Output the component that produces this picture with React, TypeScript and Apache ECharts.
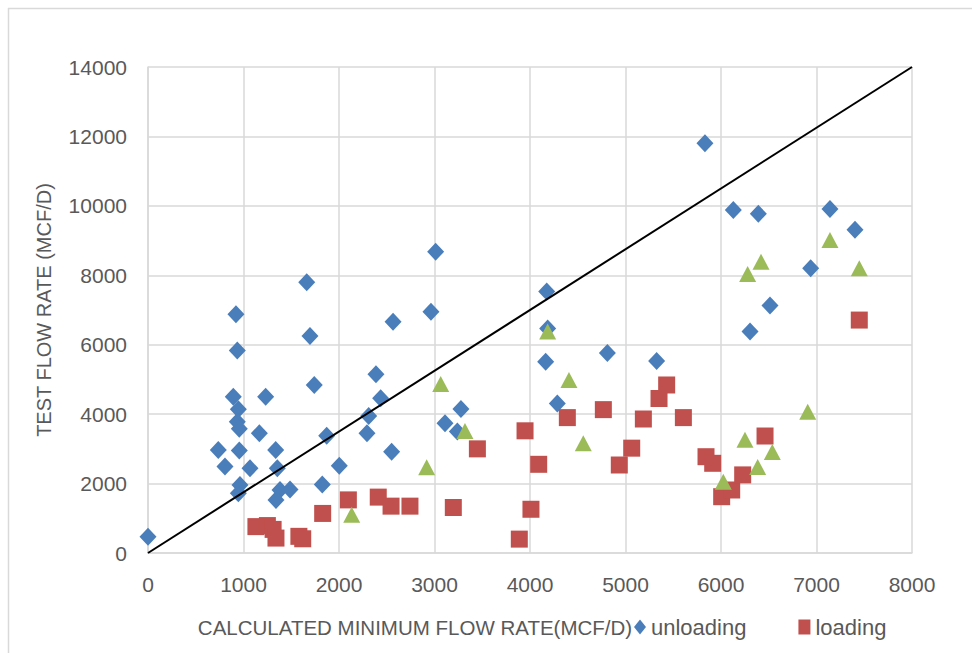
import React, { useEffect, useRef } from "react";
import * as echarts from "echarts";

const unloading: number[][] = [
  [0, 470], [921, 6880], [935, 5830], [893, 4500], [946, 4140], [935, 3780],
  [956, 3580], [736, 2970], [956, 2950], [806, 2490], [1068, 2440], [963, 1960],
  [946, 1720], [1232, 4500], [1166, 3450], [1337, 2970], [1354, 2440], [1382, 1815],
  [1487, 1830], [1340, 1530], [1662, 7800], [1696, 6250], [1741, 4840], [1871, 3380],
  [1825, 1970], [2003, 2510], [2311, 3950], [2293, 3450], [2387, 5150], [2436, 4460],
  [2551, 2920], [2566, 6660], [2963, 6950], [3012, 8680], [3277, 4150], [3110, 3740],
  [3239, 3500], [4175, 7530], [4185, 6470], [4164, 5510], [4286, 4310], [4810, 5760],
  [5326, 5530], [5832, 11800], [6129, 9880], [6391, 9770], [7141, 9910], [7403, 9310],
  [6939, 8200], [6513, 7130], [6304, 6380],
];

const loading: number[][] = [
  [1130, 760], [1250, 790], [1310, 680], [1340, 430], [1580, 480], [1620, 410],
  [1829, 1140], [2098, 1530], [2411, 1610], [2545, 1350], [2743, 1350], [3197, 1310],
  [3449, 3000], [3888, 400], [3948, 3520], [4010, 1260], [4091, 2555], [4391, 3900],
  [4768, 4130], [4935, 2535], [5065, 3020], [5187, 3860], [5351, 4450], [5431, 4840],
  [5606, 3900], [5843, 2774], [5913, 2584], [6007, 1622], [6112, 1815], [6227, 2250],
  [6461, 3370], [7448, 6710],
];

const other: number[][] = [
  [2133, 1100], [2918, 2470], [3065, 4870], [3319, 3515], [4185, 6380], [4408, 4984],
  [4558, 3160], [6024, 2054], [6251, 3260], [6384, 2480], [6537, 2910], [6908, 4071],
  [6279, 8040], [6419, 8390], [7141, 9020], [7448, 8200],
];

const referenceLine: number[][] = [[0, 0], [8000, 14000]];

const xTitle = "CALCULATED MINIMUM FLOW RATE(MCF/D)";
const yTitle = "TEST FLOW RATE (MCF/D)";

export default function App() {
  const ref = useRef<HTMLDivElement>(null);
  useEffect(() => {
    if (!ref.current) return;
    const chart = echarts.init(ref.current, null, { renderer: "svg" });
    const font = "Liberation Sans, Arial, sans-serif";
    const grey = "#d9d9d9";
    const plain = (v: number) => String(v);
    chart.setOption({
      animation: false,
      backgroundColor: "#ffffff",
      textStyle: { fontFamily: font },
      grid: { left: 148, right: 60, top: 67, bottom: 100 },
      xAxis: {
        type: "value",
        min: 0,
        max: 8000,
        interval: 1000,
        axisLine: { show: true, lineStyle: { color: grey, width: 1.5 } },
        axisTick: { show: false },
        axisLabel: { color: "#595959", fontSize: 21, margin: 21, fontFamily: font, formatter: plain },
        splitLine: { show: true, lineStyle: { color: grey, width: 1.5 } },
      },
      yAxis: {
        type: "value",
        min: 0,
        max: 14000,
        interval: 2000,
        axisLine: { show: true, lineStyle: { color: grey, width: 1.5 } },
        axisTick: { show: false },
        axisLabel: { color: "#595959", fontSize: 21, margin: 21, fontFamily: font, formatter: plain },
        splitLine: { show: true, lineStyle: { color: grey, width: 1.5 } },
      },
      legend: {
        data: ["unloading", "loading"],
        left: 629,
        top: 611,
        itemWidth: 12,
        itemHeight: 15,
        itemGap: 52,
        textStyle: { color: "#595959", fontSize: 22, fontFamily: font },
      },
      graphic: [
        {
          type: "rect",
          shape: { x: 8.5, y: 8.5, width: 1200, height: 1000 },
          style: { fill: "none", stroke: grey, lineWidth: 1.5 },
          silent: true,
        },
        {
          type: "text",
          x: 415,
          y: 627,
          style: {
            text: xTitle,
            fill: "#595959",
            font: `20.5px ${font}`,
            align: "center",
            verticalAlign: "middle",
          },
        },
        {
          type: "text",
          x: 44,
          y: 310,
          rotation: Math.PI / 2,
          style: {
            text: yTitle,
            fill: "#595959",
            font: `20px ${font}`,
            align: "center",
            verticalAlign: "middle",
          },
        },
      ],
      series: [
        {
          name: "unloading",
          type: "scatter",
          data: unloading,
          symbol: "diamond",
          symbolSize: [17, 18],
          itemStyle: { color: "#4a7ebb", opacity: 1 },
        },
        {
          name: "loading",
          type: "scatter",
          data: loading,
          symbol: "rect",
          symbolSize: 17,
          itemStyle: { color: "#c0504d", opacity: 1 },
        },
        {
          name: "series3",
          type: "scatter",
          data: other,
          symbol: "triangle",
          symbolSize: [17, 16],
          itemStyle: { color: "#9bbb59", opacity: 1 },
        },
        {
          name: "line",
          type: "line",
          data: referenceLine,
          symbol: "none",
          lineStyle: { color: "#000000", width: 2 },
          silent: true,
        },
      ],
    });
    return () => chart.dispose();
  }, []);
  return (
    <div
      ref={ref}
      style={{ position: "fixed", left: 0, top: 0, width: 972, height: 653, background: "#fff" }}
    />
  );
}
